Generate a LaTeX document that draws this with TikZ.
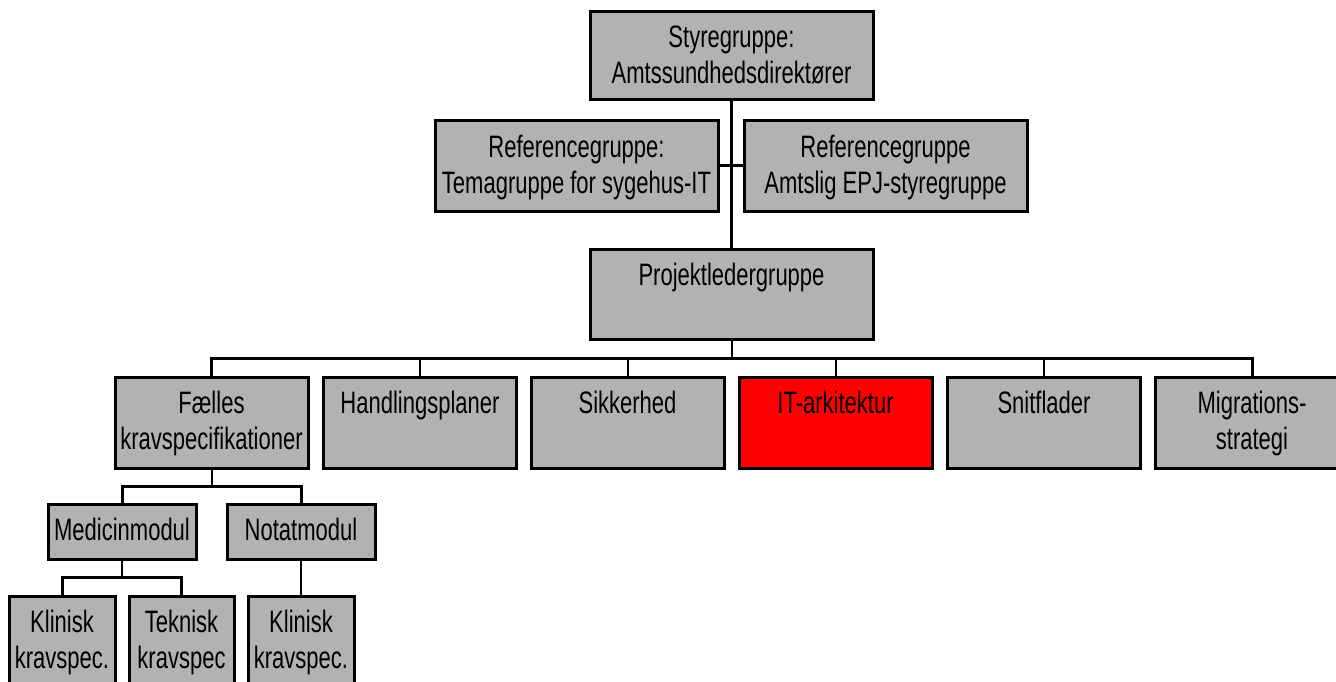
\documentclass[tikz,border=0pt]{standalone}
\usepackage{fontspec}
\setmainfont{Liberation Sans}[FakeStretch=0.71]
\definecolor{boxgray}{RGB}{178,178,178}
\definecolor{hotred}{RGB}{255,0,0}
% text hangs from the top edge of a box
\newcommand{\boxtext}[3]{\parbox[c][#2][t]{#1}{\centering\rule{0pt}{36pt}#3}}
\tikzset{
  unit/.style={draw, line width=3pt, fill=boxgray, inner sep=0pt,
    font=\fontsize{31}{36}\selectfont},
  link/.style={line width=2pt},
  bus/.style={line width=3pt}
}
\begin{document}
\begin{tikzpicture}[x=1pt,y=1pt,yscale=-1]
\useasboundingbox (0,0) rectangle (1336,682);
\clip (0,0) rectangle (1336,682);

\node[unit] (styre) at (731.5,56) {\boxtext{283pt}{88pt}{Styregruppe:\\Amtssundhedsdirektører}};
\node[unit] (tema) at (576.5,166) {\boxtext{283pt}{90pt}{Referencegruppe:\\Temagruppe for sygehus-IT}};
\node[unit] (epj) at (885.5,166) {\boxtext{283pt}{90pt}{Referencegruppe\\Amtslig EPJ-styregruppe}};
\node[unit] (projekt) at (731.5,294) {\boxtext{283pt}{90pt}{Projektledergruppe}};

\node[unit] (faelles) at (211.5,422.5) {\boxtext{193pt}{91pt}{Fælles\\kravspecifikationer}};
\node[unit] (handling) at (420,422.5) {\boxtext{193pt}{91pt}{Handlingsplaner}};
\node[unit] (sikker) at (627.5,422.5) {\boxtext{193pt}{91pt}{Sikkerhed}};
\node[unit, fill=hotred] (itark) at (835.5,422.5) {\boxtext{193pt}{91pt}{IT-arkitektur}};
\node[unit] (snit) at (1044,422.5) {\boxtext{193pt}{91pt}{Snitflader}};
\node[unit] (migr) at (1252,422.5) {\boxtext{193pt}{91pt}{Migrations-\\strategi}};

\node[unit] (medicin) at (122,531.5) {\boxtext{148pt}{55pt}{Medicinmodul}};
\node[unit] (notat) at (301,531.5) {\boxtext{148pt}{55pt}{Notatmodul}};

\node[unit] (klin1) at (62,641.5) {\boxtext{106pt}{91pt}{Klinisk\\kravspec.}};
\node[unit] (tekn) at (181.5,641.5) {\boxtext{105pt}{91pt}{Teknisk\\kravspec}};
\node[unit] (klin2) at (301,641.5) {\boxtext{106pt}{91pt}{Klinisk\\kravspec.}};

\coordinate (bus) at (731.5,358);
\coordinate (fk) at (211.5,486);
\coordinate (mk) at (122,577);

\draw[bus] (styre) -- (projekt);
\draw[bus] (tema) -- (epj);
\draw[link] (projekt) -- (bus);
\draw[bus] (faelles.north) |- (bus) -| (migr.north);
\foreach \n in {handling,sikker,itark,snit}
  \draw[link] (\n.north) -- (\n.north |- bus);

\draw[link] (faelles) -- (fk);
\draw[bus] (medicin.north) |- (fk) -| (notat.north);
\draw[link] (medicin) -- (mk);
\draw[bus] (klin1.north) |- (mk) -| (tekn.north);
\draw[link] (notat) -- (klin2);

\end{tikzpicture}
\end{document}
